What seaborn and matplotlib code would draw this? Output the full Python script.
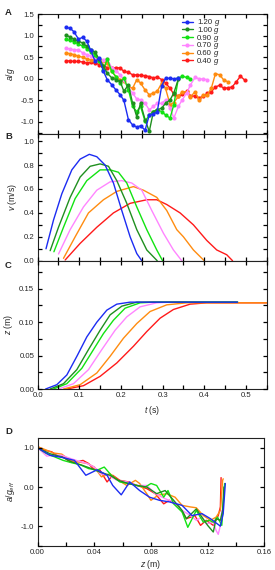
import numpy as np
import pandas as pd
import matplotlib
matplotlib.use("Agg")
import matplotlib.pyplot as plt
from matplotlib.ticker import MultipleLocator, FormatStrFormatter
import seaborn as sns

sns.set_style("ticks")
plt.rcParams["font.family"] = ["Liberation Sans", "DejaVu Sans"]
plt.rcParams["mathtext.fontset"] = "custom"
plt.rcParams["mathtext.rm"] = "Liberation Sans"
plt.rcParams["mathtext.it"] = "Liberation Sans:italic"
plt.rcParams.update({
    "xtick.direction": "in", "ytick.direction": "in",
    "xtick.top": True, "ytick.right": True,
    "axes.axisbelow": False,
})

# ── Series (order as in the legend) ───────────────────────────────────
LABELS = ["1.20", "1.00", "0.90", "0.70", "0.60", "0.40"]
COLORS = ["#1c2cf2", "#1f8f1f", "#12e312", "#ff85ff", "#ff8c10", "#ff1a1a"]

# ── A: a/g vs t (points) ──────────────────────────────────────────────
T_A = [0.067, 0.078, 0.087, 0.098, 0.108, 0.118, 0.127, 0.138, 0.148, 0.158,
       0.167, 0.178, 0.188, 0.198, 0.207, 0.218, 0.228, 0.238, 0.247, 0.258,
       0.268, 0.278, 0.287, 0.298, 0.307, 0.318, 0.327, 0.338, 0.347, 0.358,
       0.367, 0.378, 0.388, 0.398, 0.407, 0.417, 0.427, 0.437, 0.447, 0.457,
       0.467, 0.477, 0.487, 0.497]
A_120 = [1.19, 1.17, 1.09, 0.92, 0.96, 0.87, 0.67, 0.40, 0.48, 0.17,
         -0.02, -0.14, -0.26, -0.37, -0.50, -0.95, -1.07, -1.12, -1.09, -1.19,
         -0.84, -0.81, -0.77, -0.16, 0.01, 0.01, 0.00, 0.01]
A_100 = [1.01, 0.97, 0.91, 0.87, 0.83, 0.75, 0.67, 0.61, 0.45, 0.30,
         0.13, 0.02, -0.02, -0.06, -0.29, -0.14, -0.57, -0.88, -0.57, -0.95,
         -1.22, -0.76, -0.72, -0.68, -0.57, -0.49, -0.33, 0.00]
A_090 = [0.91, 0.89, 0.86, 0.80, 0.76, 0.70, 0.62, 0.55, 0.40, 0.20,
         0.46, 0.17, 0.05, -0.10, 0.02, -0.26, -0.64, -0.76, -0.64, -0.99,
         -0.84, -0.76, -0.72, -0.76, -0.84, -0.91, -0.60, 0.01, 0.06, 0.03,
         0.00]
A_070 = [0.71, 0.69, 0.67, 0.67, 0.60, 0.56, 0.53, 0.48, 0.44, 0.44,
         0.46, 0.25, 0.19, 0.09, -0.02, -0.22, -0.33, -0.47, -0.49, -0.57,
         -0.72, -0.64, -0.57, -0.57, -0.49, -0.68, -0.91, -0.64, -0.49, -0.33,
         -0.14, 0.03, 0.00, -0.01, -0.02]
A_060 = [0.60, 0.58, 0.56, 0.52, 0.50, 0.46, 0.44, 0.44, 0.42, 0.40,
         0.36, 0.17, 0.05, -0.02, -0.06, -0.18, -0.22, -0.02, -0.10, -0.26,
         -0.37, -0.33, -0.29, -0.10, -0.22, -0.60, -0.55, -0.41, -0.30, -0.30,
         -0.42, -0.30, -0.50, -0.38, -0.38, -0.22, 0.12, 0.09, -0.03, -0.07]
A_040 = [0.42, 0.41, 0.40, 0.40, 0.39, 0.36, 0.38, 0.36, 0.33, 0.30,
         0.26, 0.25, 0.26, 0.25, 0.17, 0.15, 0.09, 0.09, 0.08, 0.07,
         0.05, 0.02, 0.04, -0.02, -0.10, -0.22, -0.36, -0.41, -0.36, -0.29,
         -0.40, -0.40, -0.44, -0.41, -0.34, -0.30, -0.19, -0.15, -0.22, -0.21,
         -0.19, -0.07, 0.06, -0.03]
A_SERIES = [A_120, A_100, A_090, A_070, A_060, A_040]

# ── B: v vs t ─────────────────────────────────────────────────────────
TB_120 = [0.020, 0.038, 0.058, 0.082, 0.102, 0.124, 0.142, 0.162, 0.182, 0.202, 0.222, 0.238, 0.250]
VB_120 = [0.10, 0.34, 0.56, 0.76, 0.85, 0.89, 0.87, 0.80, 0.65, 0.42, 0.20, 0.06, 0.00]
TB_100 = [0.030, 0.050, 0.078, 0.102, 0.126, 0.150, 0.170, 0.190, 0.214, 0.238, 0.262, 0.287]
VB_100 = [0.084, 0.28, 0.53, 0.70, 0.79, 0.81, 0.79, 0.67, 0.48, 0.26, 0.09, 0.00]
TB_090 = [0.039, 0.062, 0.090, 0.118, 0.150, 0.174, 0.194, 0.214, 0.238, 0.262, 0.286, 0.300]
VB_090 = [0.075, 0.28, 0.52, 0.67, 0.76, 0.76, 0.74, 0.65, 0.45, 0.26, 0.09, 0.00]
TB_070 = [0.050, 0.078, 0.110, 0.142, 0.174, 0.202, 0.226, 0.250, 0.274, 0.302, 0.326, 0.346]
VB_070 = [0.056, 0.26, 0.45, 0.59, 0.66, 0.67, 0.65, 0.59, 0.42, 0.23, 0.09, 0.00]
TB_060 = [0.062, 0.090, 0.122, 0.158, 0.190, 0.230, 0.254, 0.286, 0.310, 0.334, 0.350, 0.374, 0.400]
VB_060 = [0.02, 0.20, 0.40, 0.51, 0.58, 0.62, 0.59, 0.53, 0.42, 0.26, 0.20, 0.09, 0.00]
TB_040 = [0.066, 0.102, 0.142, 0.182, 0.222, 0.262, 0.286, 0.310, 0.342, 0.374, 0.406, 0.430, 0.454, 0.468]
VB_040 = [0.006, 0.145, 0.28, 0.40, 0.48, 0.51, 0.51, 0.47, 0.40, 0.30, 0.17, 0.09, 0.05, 0.00]
B_SERIES = [(TB_120, VB_120), (TB_100, VB_100), (TB_090, VB_090),
            (TB_070, VB_070), (TB_060, VB_060), (TB_040, VB_040)]

# ── C: z vs t ─────────────────────────────────────────────────────────
TC_120 = [0.019, 0.046, 0.070, 0.095, 0.118, 0.142, 0.166, 0.190, 0.222, 0.480]
ZC_120 = [0.000, 0.0065, 0.021, 0.050, 0.078, 0.100, 0.118, 0.127, 0.130, 0.130]
TC_100 = [0.030, 0.062, 0.094, 0.122, 0.150, 0.174, 0.202, 0.238, 0.480]
ZC_100 = [0.000, 0.008, 0.029, 0.059, 0.088, 0.111, 0.124, 0.130, 0.130]
TC_090 = [0.038, 0.070, 0.106, 0.134, 0.158, 0.182, 0.210, 0.246, 0.278, 0.480]
ZC_090 = [0.000, 0.008, 0.031, 0.059, 0.083, 0.103, 0.121, 0.129, 0.130, 0.130]
TC_070 = [0.050, 0.086, 0.122, 0.154, 0.186, 0.214, 0.246, 0.286, 0.318, 0.480]
ZC_070 = [0.000, 0.008, 0.029, 0.059, 0.088, 0.108, 0.123, 0.129, 0.130, 0.130]
TC_060 = [0.062, 0.102, 0.142, 0.174, 0.206, 0.238, 0.270, 0.310, 0.358, 0.550]
ZC_060 = [0.000, 0.0065, 0.024, 0.049, 0.076, 0.098, 0.116, 0.126, 0.129, 0.129]
TC_040 = [0.070, 0.110, 0.150, 0.190, 0.230, 0.262, 0.294, 0.326, 0.366, 0.406, 0.550]
ZC_040 = [0.000, 0.005, 0.019, 0.039, 0.064, 0.086, 0.106, 0.119, 0.127, 0.129, 0.129]
C_SERIES = [(TC_120, ZC_120), (TC_100, ZC_100), (TC_090, ZC_090),
            (TC_070, ZC_070), (TC_060, ZC_060), (TC_040, ZC_040)]

# ── D: a/g_eff vs z ───────────────────────────────────────────────────
ZD_120 = [0.0, 0.0087, 0.018, 0.026, 0.034, 0.042, 0.049, 0.053, 0.059, 0.065,
          0.072, 0.079, 0.086, 0.093, 0.102, 0.109, 0.116, 0.122, 0.129, 0.131, 0.1325]
AD_120 = [1.0, 0.81, 0.75, 0.68, 0.30, 0.44, 0.30, 0.04, -0.20, 0.13,
          -0.09, -0.26, -0.34, -0.38, -0.47, -0.73, -0.68, -0.81, -1.00, -0.68, 0.09]
ZD_100 = [0.0, 0.0087, 0.017, 0.024, 0.031, 0.038, 0.044, 0.051, 0.057, 0.063,
          0.070, 0.077, 0.084, 0.090, 0.096, 0.102, 0.105, 0.112, 0.116, 0.120,
          0.124, 0.126, 0.129, 0.1306, 0.1315]
AD_100 = [1.0, 0.85, 0.77, 0.64, 0.56, 0.47, 0.38, 0.30, 0.17, 0.10,
          0.04, 0.0, -0.17, -0.09, -0.34, -0.60, -0.81, -0.56, -0.77, -0.98,
          -1.15, -0.81, -0.85, -0.60, 0.0]
ZD_090 = [0.0, 0.0064, 0.012, 0.018, 0.024, 0.030, 0.036, 0.042, 0.047, 0.052,
          0.058, 0.064, 0.070, 0.076, 0.080, 0.084, 0.089, 0.092, 0.096, 0.102,
          0.106, 0.112, 0.117, 0.121, 0.124, 0.127, 0.130, 0.132]
AD_090 = [1.0, 0.85, 0.77, 0.68, 0.62, 0.57, 0.47, 0.43, 0.51, 0.30,
          0.13, 0.09, 0.04, 0.0, 0.09, 0.04, -0.26, -0.09, -0.43, -0.64,
          -1.03, -0.60, -0.90, -0.85, -0.90, -0.77, -0.98, 0.09]
ZD_070 = [0.0, 0.0064, 0.011, 0.017, 0.023, 0.029, 0.035, 0.040, 0.044, 0.050,
          0.056, 0.063, 0.070, 0.077, 0.083, 0.090, 0.096, 0.102, 0.108, 0.112,
          0.116, 0.119, 0.124, 0.126, 0.1275, 0.129, 0.130]
AD_070 = [1.0, 0.79, 0.81, 0.81, 0.73, 0.66, 0.60, 0.51, 0.34, 0.30,
          0.17, 0.13, 0.04, 0.04, -0.17, -0.30, -0.38, -0.60, -0.73, -0.85,
          -0.77, -0.94, -0.90, -1.11, -1.21, -0.98, -0.60]
ZD_060 = [0.0, 0.0064, 0.011, 0.017, 0.023, 0.029, 0.035, 0.040, 0.045, 0.051,
          0.057, 0.063, 0.069, 0.072, 0.077, 0.080, 0.085, 0.091, 0.097, 0.102,
          0.108, 0.112, 0.117, 0.122, 0.126, 0.129, 0.1306, 0.131]
AD_060 = [1.03, 0.94, 0.87, 0.84, 0.68, 0.64, 0.60, 0.51, 0.26, 0.34,
          0.17, 0.04, 0.17, 0.09, -0.17, -0.34, -0.21, -0.17, -0.26, -0.47,
          -0.51, -0.53, -0.73, -0.85, -0.77, -0.60, 0.17, 0.21]
ZD_040 = [0.0, 0.005, 0.0099, 0.0134, 0.018, 0.0228, 0.0275, 0.032, 0.036, 0.039,
          0.044, 0.049, 0.053, 0.058, 0.064, 0.070, 0.077, 0.083, 0.089, 0.093,
          0.100, 0.105, 0.111, 0.115, 0.119, 0.124, 0.1275, 0.129, 0.1295]
AD_040 = [1.03, 0.94, 0.90, 0.81, 0.77, 0.64, 0.64, 0.68, 0.60, 0.47,
          0.43, 0.13, 0.30, 0.17, 0.13, 0.04, -0.04, -0.17, -0.43, -0.34,
          -0.51, -0.81, -0.73, -0.98, -0.85, -0.98, -0.73, -0.51, 0.24]
D_SERIES = [(ZD_120, AD_120), (ZD_100, AD_100), (ZD_090, AD_090),
            (ZD_070, AD_070), (ZD_060, AD_060), (ZD_040, AD_040)]

TICK_FS = 5.6
LABEL_FS = 6.2


def style_axes(ax, top=True):
    ax.xaxis.set_ticks_position("both" if top else "bottom")
    ax.yaxis.set_ticks_position("both")
    ax.tick_params(which="both", direction="in", labelsize=TICK_FS,
                   length=3.2, width=0.9, pad=2.5, color="black")
    for s in ax.spines.values():
        s.set_linewidth(0.8)
        s.set_color("#222222")


fig = plt.figure(figsize=(2.75, 5.70), dpi=100)
axA = fig.add_axes([0.137, 0.7649, 0.8328, 0.2105])
axB = fig.add_axes([0.137, 0.5426, 0.8328, 0.2223])
axC = fig.add_axes([0.137, 0.3175, 0.8328, 0.2251])
axD = fig.add_axes([0.137, 0.0426, 0.8240, 0.1895])

# draw red first so blue lies on top
order = list(range(len(LABELS)))[::-1]

for i in order:
    ya = A_SERIES[i]
    sns.lineplot(x=T_A[:len(ya)], y=ya, ax=axA, color=COLORS[i], lw=1.0,
                 marker="o", markersize=3.0, markeredgewidth=0,
                 label=LABELS[i], sort=False, estimator=None)
    tb, vb = B_SERIES[i]
    sns.lineplot(x=tb, y=vb, ax=axB, color=COLORS[i], lw=1.0, sort=False, estimator=None)
    tc, zc = C_SERIES[i]
    sns.lineplot(x=tc, y=zc, ax=axC, color=COLORS[i], lw=1.0, sort=False, estimator=None)
    zd, ad = D_SERIES[i]
    sns.lineplot(x=zd, y=ad, ax=axD, color=COLORS[i], lw=1.0, sort=False, estimator=None)

for ax in (axB, axC, axD):
    if ax.get_legend():
        ax.get_legend().remove()

handles, labels = axA.get_legend_handles_labels()
leg = axA.legend(handles[::-1], labels[::-1], loc="upper left",
                 bbox_to_anchor=(0.61, 1.0), frameon=False, fontsize=TICK_FS,
                 handlelength=1.3, handleheight=0.5, handletextpad=0.6,
                 labelspacing=0.1, borderaxespad=0.25)

# shared time axis
for ax in (axA, axB, axC):
    ax.set_xlim(0, 0.55)
    ax.xaxis.set_major_locator(MultipleLocator(0.1))
    ax.xaxis.set_minor_locator(MultipleLocator(0.05))

axA.set_ylim(-1.28, 1.5)
axA.yaxis.set_major_locator(MultipleLocator(0.5))
axA.yaxis.set_minor_locator(MultipleLocator(0.25))
axA.yaxis.set_major_formatter(FormatStrFormatter("%.1f"))
axA.set_ylabel("$a/g$", fontsize=LABEL_FS, labelpad=3)

axB.set_ylim(0, 1.06)
axB.yaxis.set_major_locator(MultipleLocator(0.2))
axB.yaxis.set_minor_locator(MultipleLocator(0.1))
axB.yaxis.set_major_formatter(FormatStrFormatter("%.1f"))
axB.set_ylabel("$v$ (m/s)", fontsize=LABEL_FS, labelpad=3)

axC.set_ylim(0, 0.192)
axC.yaxis.set_major_locator(MultipleLocator(0.05))
axC.yaxis.set_minor_locator(MultipleLocator(0.025))
axC.yaxis.set_major_formatter(FormatStrFormatter("%.2f"))
axC.xaxis.set_major_formatter(FormatStrFormatter("%.1f"))
axC.set_ylabel("$z$ (m)", fontsize=LABEL_FS, labelpad=3)
axC.set_xlabel("$t$ (s)", fontsize=LABEL_FS, labelpad=3)

axD.set_xlim(0, 0.16)
axD.set_ylim(-1.5, 1.26)
axD.xaxis.set_major_locator(MultipleLocator(0.04))
axD.xaxis.set_minor_locator(MultipleLocator(0.02))
axD.xaxis.set_major_formatter(FormatStrFormatter("%.2f"))
axD.yaxis.set_major_locator(MultipleLocator(1.0))
axD.yaxis.set_minor_locator(MultipleLocator(0.5))
axD.yaxis.set_major_formatter(FormatStrFormatter("%.1f"))
axD.set_ylabel("$a/g_{eff}$", fontsize=LABEL_FS, labelpad=3)
axD.set_xlabel("$z$ (m)", fontsize=LABEL_FS, labelpad=1)

for ax in (axA, axB, axC):
    style_axes(ax)
style_axes(axD, top=False)
for ax in (axA, axB):
    ax.tick_params(labelbottom=False)

for letter, y in [("A", 0.978), ("B", 0.761), ("C", 0.535), ("D", 0.243)]:
    fig.text(0.018, y, letter, fontsize=6.8, fontweight="bold", va="center", ha="left")

# italic "g" after each legend number
fig.canvas.draw()
W, H = fig.bbox.width, fig.bbox.height
for txt in leg.get_texts():
    bb = txt.get_window_extent()
    fig.text((bb.x1 + 2.2) / W, bb.y0 / H, "g", fontsize=TICK_FS,
             style="italic", ha="left", va="bottom")

fig.savefig("out.png", dpi=100)
